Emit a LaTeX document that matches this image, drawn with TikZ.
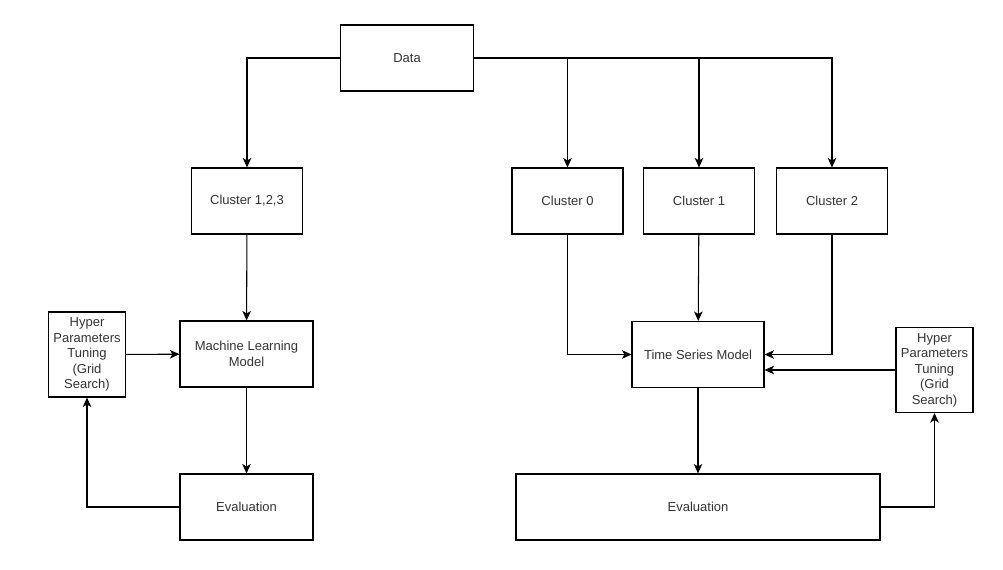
\documentclass[tikz,border=0pt]{standalone}
\usepackage{fontspec}
\setmainfont{Liberation Sans}
\usepackage{tikz}
\usetikzlibrary{arrows.meta}
\definecolor{textgray}{HTML}{333333}

\begin{document}
\begin{tikzpicture}[x=0.02cm, y=-0.02cm,
    box/.style={draw, line width=0.6pt, minimum width=111*0.02cm, minimum height=66*0.02cm,
        inner sep=1pt, align=center, text=textgray, font=\fontsize{7.4}{8.8}\selectfont},
    wide/.style={box, minimum width=133*0.02cm},
    tuning/.style={box, minimum width=77*0.02cm, minimum height=85*0.02cm},
    flow/.style={line width=0.6pt, -{Stealth[length=0.19cm, width=0.17cm, inset=0.05cm]}}]
    \useasboundingbox (0,0) rectangle (1003,570);

    % Draw the boxes
    \node[wide] (Data) at (407,58) {Data};
    \node[box] (C123) at (247,201) {Cluster 1,2,3};
    \node[box] (C0) at (567.5,201) {Cluster 0};
    \node[box] (C1) at (699,201) {Cluster 1};
    \node[box] (C2) at (832,201) {Cluster 2};
    \node[wide] (ML) at (246.5,354) {Machine Learning\\Model};
    \node[tuning] (TuneL) at (87,354.5) {Hyper\\Parameters\\Tuning\\(Grid\\Search)};
    \node[wide] (EvalL) at (246.5,507) {Evaluation};
    \node[wide, minimum width=132*0.02cm] (TSM) at (698,354.5) {Time Series Model};
    \node[tuning] (TuneR) at (934.5,370) {Hyper\\Parameters\\Tuning\\(Grid\\Search)};
    \node[wide, minimum width=364*0.02cm] (EvalR) at (698,507) {Evaluation};

    % Connect data to the clusters
    \draw[flow] (Data.west) -| (C123.north);
    \draw[flow] (Data.east) -| (C2.north);
    \foreach \c in {C0, C1}
        \draw[flow] (Data.east -| \c.north) -- (\c.north);

    % Left branch
    \draw[flow] (C123) -- (ML);
    \draw[flow] (ML) -- (EvalL);
    \draw[flow] (TuneL) -- (ML);
    \draw[flow] (EvalL.west) -| (TuneL.south);

    % Right branch
    \draw[flow] (C0.south) |- (TSM.west);
    \draw[flow] (C1) -- (TSM);
    \draw[flow] (C2.south) |- (TSM.east);
    \draw[flow] (TuneR.west) -- (TuneR.west -| TSM.east);
    \draw[flow] (TSM) -- (EvalR);
    \draw[flow] (EvalR.east) -| (TuneR.south);
\end{tikzpicture}
\end{document}
